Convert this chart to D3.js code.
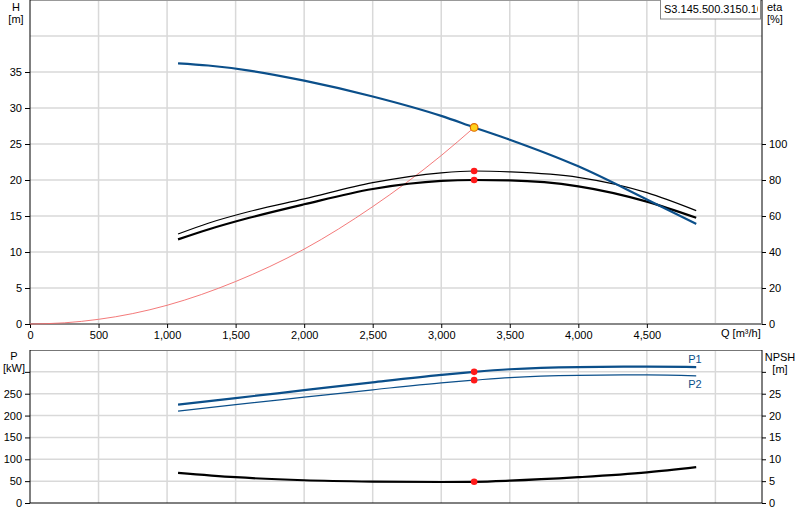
<!DOCTYPE html>
<html><head><meta charset="utf-8">
<script src="https://cdn.jsdelivr.net/npm/d3@7"></script>
<style>body{margin:0;background:#fff}text{font-family:"Liberation Sans",Arial,sans-serif;font-size:11px;fill:#000}</style>
</head><body><svg id="c" width="800" height="520"></svg>
<script>
const qTicks=[0,500,1000,1500,2000,2500,3000,3500,4000,4500];
const hTicks=[0,5,10,15,20,25,30,35];
const etaTicks=[0,20,40,60,80,100];
const pTicks=[0,50,100,150,200,250];
const npshTicks=[0,5,10,15,20,25];
const headQ=[1080,1300,1600,2000,2500,3000,3240,3500,4000,4500,4860];
const headH=[36.2,35.9,35.2,33.8,31.6,28.9,27.3,25.6,21.9,17.3,13.9];
const sysQ=[0,250,500,750,1000,1500,2000,2500,3000,3240];
const sysH=[0,0.16,0.65,1.45,2.6,5.9,10.4,16.3,23.4,27.3];
const etaQ=[1080,1300,1600,2000,2500,3000,3240,3500,4000,4500,4860];
const eta1=[50,56,62.5,69.5,78.5,84,85,84.5,81.5,73,63];
const eta2=[47,52.5,59,66.5,75,79.5,80,79.8,76.5,68,59];
const pQ=[1080,1500,2000,2500,3000,3240,3500,4000,4500,4860];
const p1=[225,240,258,276,293,300,306,311,312,311];
const p2=[210,225,242,259,275,281,287,292,293,291];
const npsh=[6.9,5.9,5.2,4.9,4.8,4.85,5.1,5.9,7.0,8.2];
const duty={q:3240,h:27.3,eta1:85,eta2:80,p1:300,p2:281,npsh:4.85};

const svg=d3.select("#c");
const L=30,R=762;
const x=d3.scaleLinear().domain([0,5340]).range([L,R]);
const yH=d3.scaleLinear().domain([0,45]).range([324,0]);
const yE=d3.scaleLinear().domain([0,180]).range([324,0]);
const yP=d3.scaleLinear().domain([0,350]).range([503,350]);
const yN=d3.scaleLinear().domain([0,35]).range([503,350]);
const grid="#d9d9d9";
function grids(y,vals,top,bot){
  [...qTicks.slice(1),5000].forEach(v=>svg.append("line").attr("x1",x(v)).attr("x2",x(v)).attr("y1",top).attr("y2",bot).attr("stroke",grid).attr("stroke-width",1.5));
  vals.forEach(v=>svg.append("line").attr("x1",L).attr("x2",R).attr("y1",y(v)).attr("y2",y(v)).attr("stroke",grid).attr("stroke-width",1.5));
}
grids(yH,[5,10,15,20,25,30,35,40],0,324);
grids(yP,[50,100,150,200,250,300],350,503);
svg.append("line").attr("x1",L).attr("x2",R).attr("y1",0.5).attr("y2",0.5).attr("stroke","#999");
svg.append("line").attr("x1",L).attr("x2",R).attr("y1",350.5).attr("y2",350.5).attr("stroke","#777");
function ax(axis,tr){const a=svg.append("g").attr("transform",tr).call(axis);a.select(".domain").attr("stroke","#000");a.selectAll("text").style("font-size","11px");return a;}
ax(d3.axisLeft(yH).tickValues(hTicks).tickSize(5),`translate(${L},0)`).select(".domain").attr("d","M0,0V324");
ax(d3.axisRight(yE).tickValues(etaTicks).tickSize(4),`translate(${R},0)`).select(".domain").attr("d","M0,0V324");
const xa=ax(d3.axisBottom(x).tickValues(qTicks).tickFormat(d3.format(",")).tickSize(4),`translate(0,324)`);
xa.select(".domain").attr("d",`M${L},0H${R}`).attr("stroke","#888").attr("stroke-width",2);
ax(d3.axisLeft(yP).tickValues([...pTicks,300]).tickFormat(d=>d===300?"":d).tickSize(5),`translate(${L},0)`).select(".domain").attr("d","M0,350V503");
ax(d3.axisRight(yN).tickValues([...npshTicks,30]).tickFormat(d=>d===30?"":d).tickSize(4),`translate(${R},0)`).select(".domain").attr("d","M0,350V503");
svg.append("line").attr("x1",L).attr("x2",R).attr("y1",503).attr("y2",503).attr("stroke","#000");
svg.append("text").attr("x",721).attr("y",337).text("Q [m³/h]");
[["H",16,11],["[m]",16,23]].forEach(t=>svg.append("text").attr("x",t[1]).attr("y",t[2]).attr("text-anchor","middle").text(t[0]));
[["eta",767,11],["[%]",767,23]].forEach(t=>svg.append("text").attr("x",t[1]).attr("y",t[2]).text(t[0]));
[["P",14,360],["[kW]",14,372]].forEach(t=>svg.append("text").attr("x",t[1]).attr("y",t[2]).attr("text-anchor","middle").text(t[0]));
[["NPSH",780,361],["[m]",780,373]].forEach(t=>svg.append("text").attr("x",t[1]).attr("y",t[2]).attr("text-anchor","middle").text(t[0]));
svg.append("clipPath").attr("id","cl").append("rect").attr("x",660).attr("y",0).attr("width",98).attr("height",20);
svg.append("rect").attr("x",660.5).attr("y",-1).attr("width",100).attr("height",20).attr("fill","#fff").attr("stroke","#888");
svg.append("text").attr("x",664).attr("y",13).attr("clip-path","url(#cl)").text("S3.145.500.3150.10.");
const line=(qs,vs,y)=>d3.line().curve(d3.curveMonotoneX).x((d,i)=>x(qs[i])).y(d=>y(d))(vs);
svg.append("path").attr("d",line(sysQ,sysH,yH)).attr("fill","none").attr("stroke","#f26b6b").attr("stroke-width",0.9);
svg.append("path").attr("d",line(etaQ,eta1,yE)).attr("fill","none").attr("stroke","#000").attr("stroke-width",1.2);
svg.append("path").attr("d",line(etaQ,eta2,yE)).attr("fill","none").attr("stroke","#000").attr("stroke-width",2.2);
svg.append("path").attr("d",line(headQ,headH,yH)).attr("fill","none").attr("stroke","#0b4f8a").attr("stroke-width",2.2);
svg.append("path").attr("d",line(pQ,p1,yP)).attr("fill","none").attr("stroke","#0b4f8a").attr("stroke-width",2.2);
svg.append("path").attr("d",line(pQ,p2,yP)).attr("fill","none").attr("stroke","#0b4f8a").attr("stroke-width",1.2);
svg.append("path").attr("d",line(pQ,npsh,yN)).attr("fill","none").attr("stroke","#000").attr("stroke-width",2.2);
svg.append("text").attr("x",x(pQ[pQ.length-1])-8).attr("y",yP(p1[p1.length-1])-4).style("fill","#0b4f8a").text("P1");
svg.append("text").attr("x",x(pQ[pQ.length-1])-8).attr("y",yP(p2[p2.length-1])+12).style("fill","#0b4f8a").text("P2");
const dot=(cx,cy)=>svg.append("circle").attr("cx",cx).attr("cy",cy).attr("r",3.3).attr("fill","#ff1a1a");
dot(x(duty.q),yE(duty.eta1));dot(x(duty.q),yE(duty.eta2));
dot(x(duty.q),yP(duty.p1));dot(x(duty.q),yP(duty.p2));dot(x(duty.q),yN(duty.npsh));
svg.append("circle").attr("cx",x(duty.q)).attr("cy",yH(duty.h)).attr("r",3.8).attr("fill","#ffd21a").attr("stroke","#e06a00").attr("stroke-width",1.2);
</script></body></html>
